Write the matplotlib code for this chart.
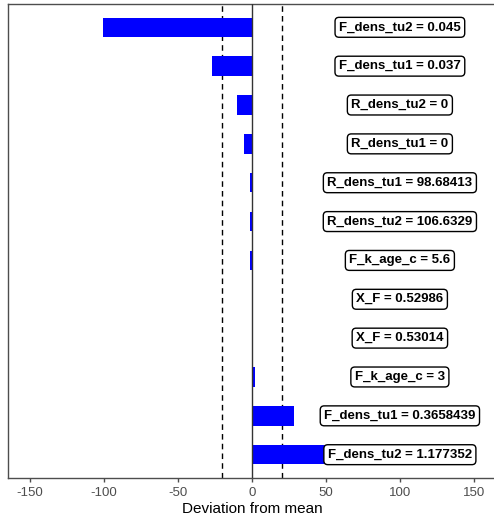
import matplotlib.pyplot as plt
import numpy as np

plt.rcParams['font.family'] = ['Liberation Sans', 'DejaVu Sans']
plt.rcParams['axes.unicode_minus'] = False

# parameter settings, top to bottom, with their deviation from the mean output
labels = ["F_dens_tu2 = 0.045", "F_dens_tu1 = 0.037", "R_dens_tu2 = 0",
          "R_dens_tu1 = 0", "R_dens_tu1 = 98.68413", "R_dens_tu2 = 106.6329",
          "F_k_age_c = 5.6", "X_F = 0.52986", "X_F = 0.53014",
          "F_k_age_c = 3", "F_dens_tu1 = 0.3658439", "F_dens_tu2 = 1.177352"]
deviation = [-101, -26.8, -10.3, -5.3, -1.6, -1.6, -1.1, 0, 0, 2, 28.3, 50]
threshold = 20
xticks = [-150, -100, -50, 0, 50, 100, 150]

fig = plt.figure(figsize=(4.94, 5.26), dpi=100)
ax = fig.add_axes([8 / 494, 48 / 526, 488 / 494, 474 / 526])

y = np.arange(len(labels))
ax.barh(y, deviation, height=0.5, color="#0000FF", zorder=2)
ax.axvline(0, color="#333333", lw=1, zorder=3)
ax.axvline(-threshold, color="black", lw=1, ls=(0, (4, 3)), zorder=1)
ax.axvline(threshold, color="black", lw=1, ls=(0, (4, 3)), zorder=1)

for yi, lab in zip(y, labels):
    ax.text(100, yi, lab, ha="center", va="center", fontsize=9.5,
            fontweight="bold", zorder=4,
            bbox=dict(boxstyle="round,pad=0.3,rounding_size=0.3",
                      fc="white", ec="black", lw=1))

ax.set_xlim(-165, 165)
ax.set_ylim(len(labels) - 0.4, -0.6)
ax.set_yticks([])
ax.set_xticks(xticks)
ax.tick_params(axis="x", colors="#4D4D4D", labelsize=9.5, length=3, width=1)
ax.set_xlabel("Deviation from mean", fontsize=11, color="black", labelpad=2)
for s in ["left", "top", "bottom"]:
    ax.spines[s].set_color("#4D4D4D")
    ax.spines[s].set_linewidth(1)
ax.spines["right"].set_visible(False)

fig.savefig("out.png", dpi=100)
